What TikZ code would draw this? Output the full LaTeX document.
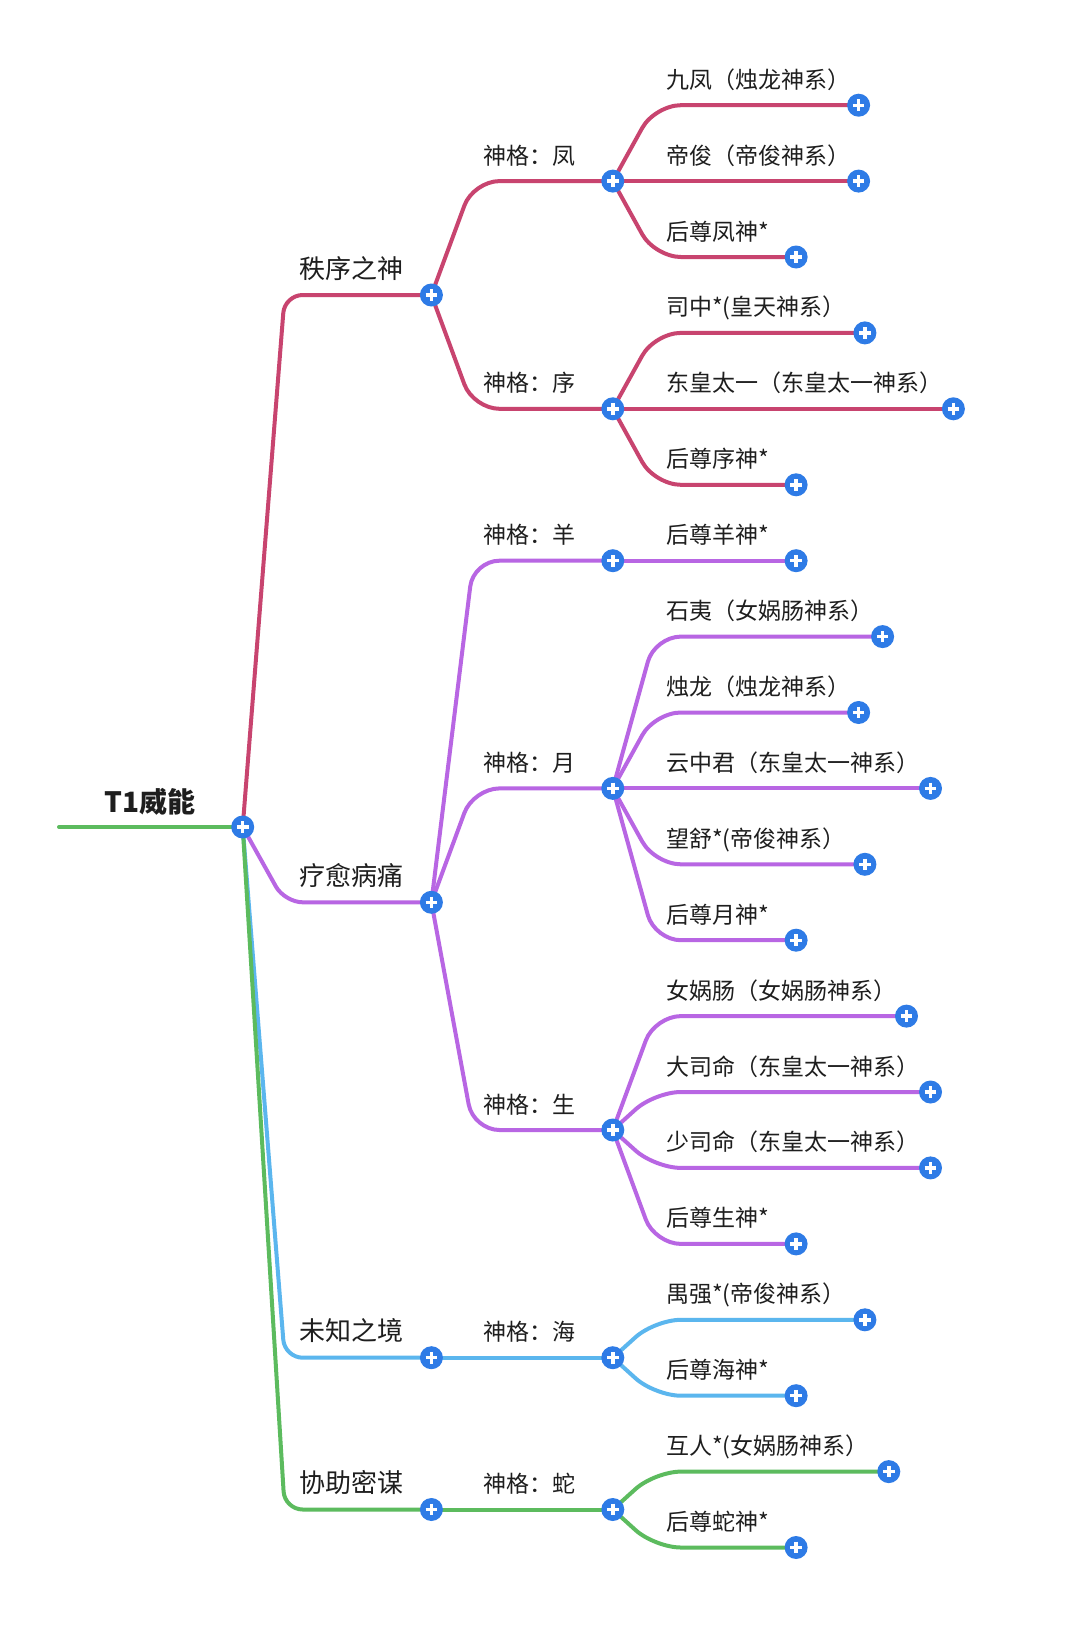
\documentclass[tikz,border=0pt]{standalone}
\usepackage{fontspec}
\setmainfont{Noto Sans CJK SC}
\usetikzlibrary{calc}
\pgfdeclarelayer{bg}
\pgfdeclarelayer{paper}
\pgfsetlayers{paper,bg,main}
\definecolor{cred}{HTML}{C8446F}
\definecolor{cpur}{HTML}{B866E3}
\definecolor{cblu}{HTML}{5BB6EE}
\definecolor{cgrn}{HTML}{5CBB5E}
\definecolor{cplus}{HTML}{2E7BE6}
\definecolor{ctxt}{HTML}{1E1E1E}
\tikzset{
  plus/.style={circle,fill=cplus,minimum size=23pt,inner sep=0pt,
    path picture={\draw[white,line width=3.4pt]
      ($(path picture bounding box.center)+(-5.8,0)$) -- ($(path picture bounding box.center)+(5.8,0)$)
      ($(path picture bounding box.center)+(0,-5.8)$) -- ($(path picture bounding box.center)+(0,5.8)$);}},
  lbl/.style={anchor=base west,inner sep=0pt,text=ctxt,font=\fontsize{23}{27}\selectfont},
  toplbl/.style={lbl,font=\fontsize{26}{30}\selectfont},
  edge/.style={line width=4pt,line cap=round,line join=round,rounded corners=26pt},
  longedge/.style={line width=4pt,line cap=round,line join=round,rounded corners=18pt}
}
% #1 name, #2 parent, #3 y, #4 plus x, #5 text, #6 colour
\newcommand\mmleaf[6]{%
  \node[plus] (#1) at (#4,#3) {};
  \node[lbl] (#1t) at (666,#3-17) {#5};
  \begin{pgfonlayer}{bg}
  \draw[edge,#6] (#2.center) -- ($(#2.center |- #1.center)+(42,0)$) -- (#1.center);
  \end{pgfonlayer}}
% level 2: #1 name, #2 parent, #3 y, #4 text, #5 colour
\newcommand\mmmid[5]{%
  \node[plus] (#1) at (612.8,#3) {};
  \node[lbl] (#1t) at (483,#3-17) {#4};
  \begin{pgfonlayer}{bg}
  \draw[edge,#5] (#2.center) -- ($(#2.center |- #1.center)+(42,0)$) -- (#1.center);
  \end{pgfonlayer}}
% level 1
\newcommand\mmtop[4]{%
  \node[plus] (#1) at (431.4,#3) {};
  \node[toplbl] (#1t) at (299,#3-17) {#2};
  \begin{pgfonlayer}{bg}
  \draw[longedge,#4] (root.center) -- ($(root.center |- #1.center)+(42,0)$) -- (#1.center);
  \end{pgfonlayer}}
\begin{document}
\begin{tikzpicture}[x=1pt,y=-1pt]
\begin{pgfonlayer}{paper}
\fill[white] (0,0) rectangle (1080,1633);
\end{pgfonlayer}
\useasboundingbox (0,0) rectangle (1080,1633);
% root
\node[plus] (root) at (242.7,827) {};
\node[lbl,font=\fontsize{28}{32}\selectfont\bfseries] (roott) at (104,812) {T1威能};
\coordinate (rootstart) at (59,827);
\begin{pgfonlayer}{bg}
\draw[line width=4pt,line cap=round,cgrn] (rootstart) -- (root.center);
\end{pgfonlayer}
% level 1
\mmtop{a}{秩序之神}{295.0}{cred}
\mmtop{b}{疗愈病痛}{902.3}{cpur}
\mmtop{c}{未知之境}{1357.7}{cblu}
\mmtop{d}{协助密谋}{1509.5}{cgrn}
% level 2
\mmmid{a1}{a}{181.1}{神格：凤}{cred}
\mmmid{a2}{a}{408.8}{神格：序}{cred}
\mmmid{b1}{b}{560.7}{神格：羊}{cpur}
\mmmid{b2}{b}{788.4}{神格：月}{cpur}
\mmmid{b3}{b}{1130.0}{神格：生}{cpur}
\mmmid{c1}{c}{1357.7}{神格：海}{cblu}
\mmmid{d1}{d}{1509.5}{神格：蛇}{cgrn}
% level 3
\mmleaf{l0}{a1}{105.2}{858.6}{九凤（烛龙神系）}{cred}
\mmleaf{l1}{a1}{181.1}{858.6}{帝俊（帝俊神系）}{cred}
\mmleaf{l2}{a1}{257.0}{796.1}{后尊凤神*}{cred}
\mmleaf{l3}{a2}{332.9}{864.9}{司中*(皇天神系）}{cred}
\mmleaf{l4}{a2}{408.8}{953.4}{东皇太一（东皇太一神系）}{cred}
\mmleaf{l5}{a2}{484.8}{796.1}{后尊序神*}{cred}
\mmleaf{l6}{b1}{560.7}{796.1}{后尊羊神*}{cpur}
\mmleaf{l7}{b2}{636.6}{882.6}{石夷（女娲肠神系）}{cpur}
\mmleaf{l8}{b2}{712.5}{858.6}{烛龙（烛龙神系）}{cpur}
\mmleaf{l9}{b2}{788.4}{930.5}{云中君（东皇太一神系）}{cpur}
\mmleaf{l10}{b2}{864.3}{864.9}{望舒*(帝俊神系）}{cpur}
\mmleaf{l11}{b2}{940.2}{796.1}{后尊月神*}{cpur}
\mmleaf{l12}{b3}{1016.1}{906.5}{女娲肠（女娲肠神系）}{cpur}
\mmleaf{l13}{b3}{1092.0}{930.5}{大司命（东皇太一神系）}{cpur}
\mmleaf{l14}{b3}{1167.9}{930.5}{少司命（东皇太一神系）}{cpur}
\mmleaf{l15}{b3}{1243.9}{796.1}{后尊生神*}{cpur}
\mmleaf{l16}{c1}{1319.8}{864.9}{禺强*(帝俊神系）}{cblu}
\mmleaf{l17}{c1}{1395.7}{796.1}{后尊海神*}{cblu}
\mmleaf{l18}{d1}{1471.6}{888.8}{互人*(女娲肠神系）}{cgrn}
\mmleaf{l19}{d1}{1547.5}{796.1}{后尊蛇神*}{cgrn}
\end{tikzpicture}
\end{document}
